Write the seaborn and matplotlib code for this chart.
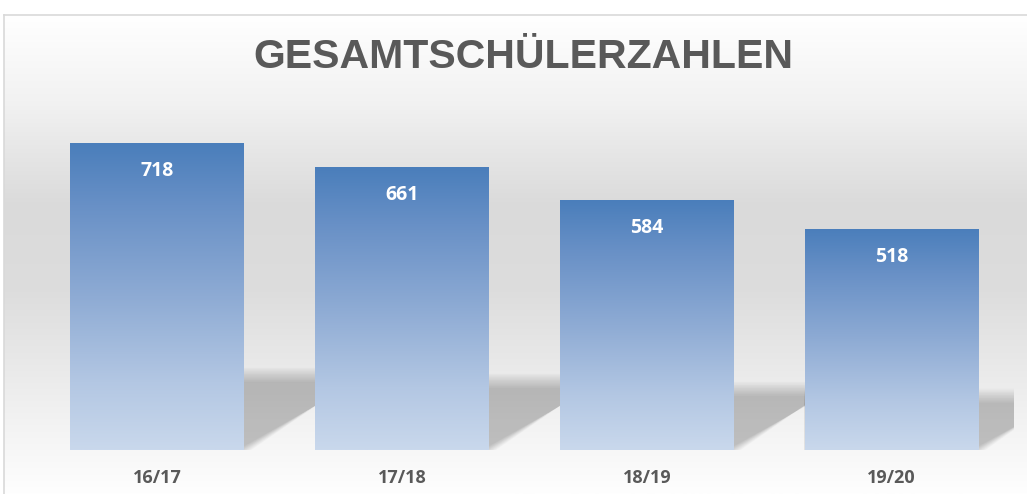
import numpy as np
import matplotlib
matplotlib.use('Agg')
import matplotlib.pyplot as plt
import seaborn as sns
from matplotlib.colors import LinearSegmentedColormap
from matplotlib.patches import Polygon

# Daten
seasons = ['16/17', '17/18', '18/19', '19/20']
totals = [718, 661, 584, 518]
title = 'GESAMTSCHÜLERZAHLEN'

sns.set_theme(style='white')
plt.rcParams['font.family'] = ['Liberation Sans', 'DejaVu Sans']

fig = plt.figure(figsize=(10.27, 4.94), dpi=100)
fig.patch.set_facecolor('white')

# Hintergrund mit Verlauf (Diagrammbereich)
bg = fig.add_axes([4 / 1027, 0, 1 - 4 / 1027, 479 / 494], zorder=0)
bg_cmap = LinearSegmentedColormap.from_list('bg', [
    (0.0, '#fefefe'), (0.18, '#f0f0f0'), (0.42, '#dddddd'),
    (0.6, '#dadada'), (0.82, '#f2f2f2'), (1.0, '#ffffff')])
grad = np.linspace(0, 1, 256).reshape(-1, 1)
bg.imshow(grad, aspect='auto', cmap=bg_cmap, origin='lower', extent=[0, 1, 0, 1])
bg.set_xlim(0, 1)
bg.set_ylim(0, 1)
bg.set_xticks([])
bg.set_yticks([])
for side in ['right', 'bottom']:
    bg.spines[side].set_visible(False)
for side in ['left', 'top']:
    bg.spines[side].set_color('#d9d9d9')
    bg.spines[side].set_linewidth(1.2)

ax = fig.add_axes([35 / 1027, 44 / 494, 979 / 1027, 342 / 494], zorder=1)
ax.set_facecolor('none')

sns.barplot(x=seasons, y=totals, ax=ax, width=0.71, color='#4f81bd', zorder=3)
ymax = 800
ax.set_ylim(0, ymax)
ax.set_xlim(-0.5, 3.5)

# Pixel pro Dateneinheit
px_x = 979 / 4
px_y = 342 / ymax

bar_cmap = LinearSegmentedColormap.from_list('bar', [
    (0.0, '#c9d8ec'), (0.22, '#b3c7e3'), (0.5, '#8eabd4'),
    (0.8, '#6890c6'), (1.0, '#4a7ebb')])

n_blur = 10
blur_alpha = 1 - (1 - 0.2) ** (1 / n_blur)

for p in list(ax.patches):
    x0 = p.get_x()
    w = p.get_width()
    h = p.get_height()
    x1 = x0 + w
    # weicher Schatten hinter dem Balken
    hs = 0.245 * h
    dx = 1.6 * hs * px_y / px_x
    for r in np.linspace(7, -7, n_blur):
        rx = r / px_x
        ry = r / px_y
        poly = Polygon([(x0, 0), (x1 + rx, 0), (x1 + dx + rx, hs + ry), (x0, hs + ry)],
                       closed=True, facecolor='black', edgecolor='none',
                       alpha=blur_alpha, zorder=1)
        ax.add_patch(poly)
    # Farbverlauf im Balken
    im = ax.imshow(grad, aspect='auto', cmap=bar_cmap, origin='lower',
                   extent=[x0, x1, 0, h], zorder=4)
    im.set_clip_path(p)
    p.set_facecolor('none')
    p.set_edgecolor('none')
    ax.text(x0 + w / 2, h - 28 / px_y, f'{int(h)}', ha='center', va='center',
            color='white', fontsize=14, fontweight='bold',
            family=['Open Sans', 'DejaVu Sans'], zorder=5)

ax.set_aspect('auto')
ax.set_xlim(-0.5, 3.5)
ax.set_ylim(0, ymax)
ax.set_yticks([])
ax.set_xlabel('')
ax.set_ylabel('')
ax.tick_params(axis='x', length=0, pad=13.5)
for lbl in ax.get_xticklabels():
    lbl.set_fontweight('bold')
    lbl.set_color('#595959')
    lbl.set_fontsize(13)
    lbl.set_family(['Open Sans', 'DejaVu Sans'])
sns.despine(ax=ax, left=True, bottom=True)

fig.text(0.51, 1 - 57 / 494, title, ha='center', va='center', fontsize=29.5,
         fontweight='bold', color='#595959', family=['Liberation Sans', 'DejaVu Sans'])

fig.savefig('out.png', dpi=100)
